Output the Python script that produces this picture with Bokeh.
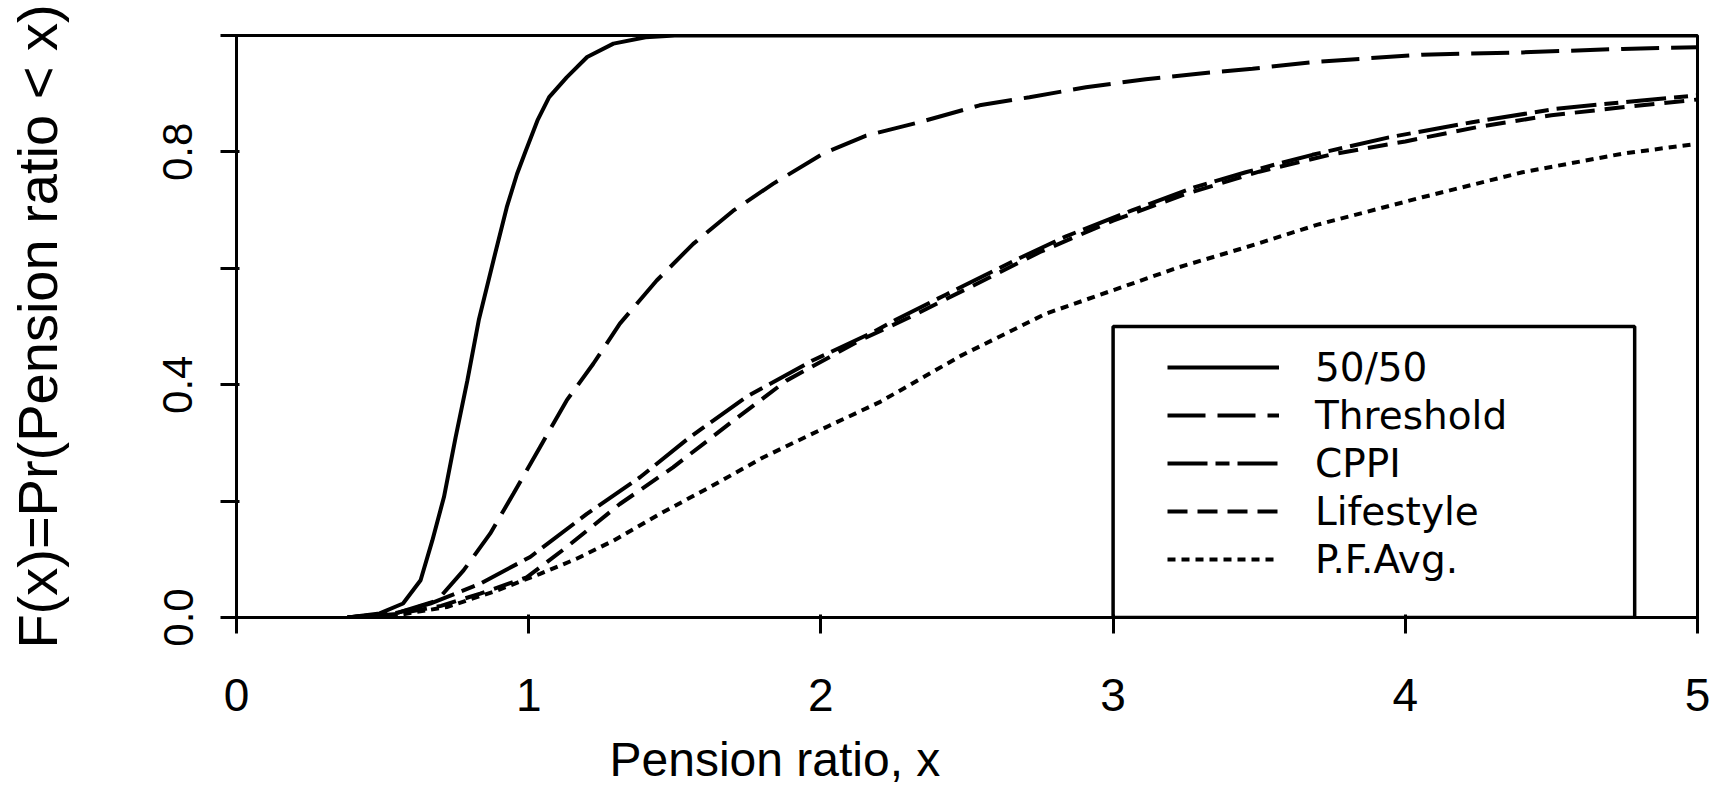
from bokeh.plotting import figure
from bokeh.models import Range1d, FixedTicker, PrintfTickFormatter, Legend, LegendItem, BoxAnnotation, Title
from bokeh.embed import file_html
from bokeh.resources import INLINE

# ---- data ----
series_names = ["50/50", "Threshold", "CPPI", "Lifestyle", "P.F.Avg."]

fifty_x = [0.38, 0.49, 0.57, 0.63, 0.67, 0.71, 0.75, 0.79, 0.83, 0.885, 0.925, 0.96,
           0.99, 1.03, 1.07, 1.13, 1.20, 1.29, 1.40, 1.50, 5.0]
fifty_y = [0.0, 0.007, 0.024, 0.064, 0.132, 0.207, 0.31, 0.407, 0.513, 0.625, 0.705, 0.762,
           0.802, 0.854, 0.894, 0.928, 0.963, 0.986, 0.997, 1.0, 1.0]

thr_x = [0.38, 0.55, 0.686, 0.777, 0.868, 0.948, 1.039, 1.13, 1.221, 1.312, 1.438, 1.563,
         1.70, 1.836, 2.007, 2.155, 2.338, 2.543, 2.714, 2.907, 3.112, 3.283, 3.477, 3.70,
         4.058, 4.401, 4.744, 5.0]
thr_y = [0.0, 0.008, 0.029, 0.081, 0.144, 0.213, 0.293, 0.373, 0.436, 0.505, 0.579, 0.642,
         0.699, 0.745, 0.797, 0.828, 0.851, 0.880, 0.894, 0.911, 0.925, 0.934, 0.943, 0.955,
         0.967, 0.971, 0.977, 0.980]

cppi_x = [0.38, 0.55, 0.663, 0.834, 1.005, 1.199, 1.381, 1.552, 1.745, 1.973, 2.178, 2.258,
          2.429, 2.657, 2.839, 3.067, 3.283, 3.454, 3.682, 3.944, 4.229, 4.515, 4.80, 5.0]
cppi_y = [0.0, 0.008, 0.024, 0.058, 0.104, 0.178, 0.241, 0.310, 0.379, 0.442, 0.490, 0.512,
          0.555, 0.612, 0.655, 0.700, 0.740, 0.765, 0.795, 0.825, 0.851, 0.874, 0.888, 0.897]

life_x = [0.38, 0.55, 0.70, 0.834, 0.993, 1.13, 1.312, 1.494, 1.70, 1.882, 2.133, 2.30,
          2.50, 2.75, 3.0, 3.25, 3.50, 3.75, 4.0, 4.25, 4.5, 4.75, 5.0]
life_y = [0.0, 0.006, 0.020, 0.041, 0.069, 0.121, 0.195, 0.258, 0.338, 0.407, 0.476, 0.515,
          0.565, 0.628, 0.682, 0.728, 0.766, 0.796, 0.818, 0.843, 0.863, 0.877, 0.890]

pf_x = [0.38, 0.55, 0.72, 0.89, 1.039, 1.164, 1.29, 1.449, 1.62, 1.802, 2.03, 2.201, 2.48,
        2.77, 2.998, 3.226, 3.454, 3.70, 4.058, 4.401, 4.744, 5.0]
pf_y = [0.0, 0.004, 0.018, 0.046, 0.075, 0.101, 0.132, 0.178, 0.224, 0.275, 0.330, 0.370,
        0.450, 0.522, 0.562, 0.602, 0.636, 0.675, 0.722, 0.765, 0.797, 0.814]

x_ticks = [0, 1, 2, 3, 4, 5]
y_ticks_labeled = [0.0, 0.4, 0.8]
y_ticks_unlabeled = [0.2, 0.6, 1.0]
x_title = "Pension ratio, x"
y_title = "F(x)=Pr(Pension ratio < x)"

# ---- figure ----
p = figure(width=1720, height=803, output_backend="svg", toolbar_location=None,
           x_range=Range1d(0, 5), y_range=Range1d(0, 1),
           min_border_left=236, min_border_right=23, min_border_top=35, min_border_bottom=186)
p.xgrid.visible = False
p.ygrid.visible = False
p.outline_line_color = "black"
p.outline_line_width = 3
p.outline_line_alpha = 1.0
p.background_fill_color = "white"
p.border_fill_color = "white"

FONT = "Liberation Sans"

xa = p.xaxis[0]
xa.ticker = FixedTicker(ticks=x_ticks)
xa.minor_tick_line_color = None
xa.major_tick_out = 16
xa.major_tick_in = 3
xa.major_tick_line_width = 3
xa.major_tick_line_color = "black"
xa.axis_line_width = 3
xa.axis_line_color = "black"
xa.major_label_text_font = FONT
xa.major_label_text_font_size = "46px"
xa.major_label_text_color = "black"
xa.major_label_standoff = 45

ya = p.yaxis[0]
ya.ticker = FixedTicker(ticks=y_ticks_labeled, minor_ticks=y_ticks_unlabeled)
ya.formatter = PrintfTickFormatter(format="%.1f")
ya.major_tick_out = 16
ya.major_tick_in = 3
ya.minor_tick_out = 16
ya.minor_tick_in = 3
ya.major_tick_line_width = 3
ya.minor_tick_line_width = 3
ya.major_tick_line_color = "black"
ya.minor_tick_line_color = "black"
ya.axis_line_width = 3
ya.axis_line_color = "black"
ya.major_label_orientation = "parallel"
ya.major_label_text_font = FONT
ya.major_label_text_font_size = "42px"
ya.major_label_text_color = "black"
ya.major_label_standoff = 28
ya.axis_label = y_title
ya.axis_label_text_font = FONT
ya.axis_label_text_font_size = "56px"
ya.axis_label_text_font_style = "normal"
ya.axis_label_text_color = "black"
ya.axis_label_standoff = 92

# x title as a Title (the reference's x title sits left of centre)
p.add_layout(Title(text=x_title, align="left", offset=373, standoff=35,
                   text_font=FONT, text_font_size="48px", text_font_style="normal",
                   text_color="black"), "below")

LW = 4
r1 = p.line(fifty_x, fifty_y, line_color="black", line_width=LW)
r2 = p.line(thr_x, thr_y, line_color="black", line_width=LW, line_dash="38 12")
r3 = p.line(cppi_x, cppi_y, line_color="black", line_width=LW, line_dash="40 8 14 8")
r4 = p.line(life_x, life_y, line_color="black", line_width=LW, line_dash="20 10")
r5 = p.line(pf_x, pf_y, line_color="black", line_width=LW, line_dash="8 6")

box = BoxAnnotation(left=3.0, right=4.785, bottom=0.0, top=0.5,
                    fill_color=None, fill_alpha=0, line_color="black", line_width=3.5, line_alpha=1.0)
p.add_layout(box)

legend = Legend(items=[LegendItem(label=n, renderers=[r]) for n, r in
                       zip(series_names, [r1, r2, r3, r4, r5])],
                location=(931, 34), padding=0, margin=0, spacing=0,
                glyph_width=112, glyph_height=48, label_height=48, label_standoff=36,
                label_text_font="DejaVu Sans", label_text_font_size="39px",
                label_text_color="black",
                border_line_alpha=0, background_fill_alpha=0)
p.add_layout(legend)

open("out.html", "w").write(file_html(p, INLINE))
